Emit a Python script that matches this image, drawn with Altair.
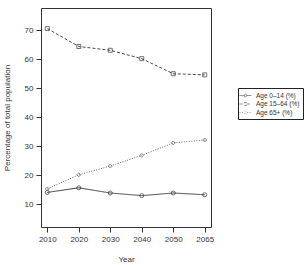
import altair as alt
import pandas as pd

years = ["2010", "2020", "2030", "2040", "2050", "2065"]
age_0_14 = [14.0, 15.6, 13.8, 12.9, 13.8, 13.2]
age_15_64 = [70.6, 64.4, 63.1, 60.2, 55.0, 54.6]
age_65p = [15.2, 20.1, 23.1, 26.8, 31.1, 32.1]
series = ["Age 0\u201314 (%)", "Age 15\u201364 (%)", "Age 65+ (%)"]
marker_shapes = ["circle", "square", "diamond"]

rows = []
for s, vals in zip(series, [age_0_14, age_15_64, age_65p]):
    for y, v in zip(years, vals):
        rows.append({"Year": y, "value": v, "series": s})
df = pd.DataFrame(rows)

font = "Liberation Sans"
tc = "#333333"
x = alt.X("Year:O", sort=years, scale=alt.Scale(type="point", padding=0.2),
          axis=alt.Axis(title="Year", labelAngle=0, domain=False, tickSize=5,
                        labelPadding=3, titlePadding=12))
y = alt.Y("value:Q", scale=alt.Scale(domain=[2.06, 77.7], nice=False, zero=False),
          axis=alt.Axis(title="Percentage of total population", values=[10, 20, 30, 40, 50, 60, 70],
                        domain=False, tickSize=5, labelPadding=3, titlePadding=13, grid=False))

cscale = alt.Scale(domain=series, range=["#2a2a2a", "#333333", "#555555"])
dscale = alt.Scale(domain=series, range=[[1, 0], [3, 2], [1, 1.5]])

legend_paths = [
    "M-1.6,0H-0.36M0.36,0H1.6M0.36,0A0.36,0.36 0 1,1 -0.36,0A0.36,0.36 0 1,1 0.36,0",
    "M-1.6,0H-0.36M0.36,0H1.6M-0.36,-0.36H0.36V0.36H-0.36Z",
    "M-1.6,0H-0.45M0.45,0H1.6M0,-0.45L0.45,0L0,0.45L-0.45,0Z",
]

leg = alt.Legend(title=None, orient="none", legendX=197, legendY=80,
                 strokeColor="#222", padding=3, labelFontSize=6.5,
                 labelFont=font, labelColor=tc, rowPadding=0.5,
                 symbolSize=56, symbolStrokeWidth=0.8, symbolFillColor="transparent",
                 labelOffset=6, cornerRadius=0)

lines = alt.Chart(df).mark_line(strokeWidth=0.9).encode(
    x=x, y=y,
    color=alt.Color("series:N", scale=cscale, legend=leg),
    strokeDash=alt.StrokeDash("series:N", scale=dscale, legend=leg))

legend_layer = alt.Chart(df).transform_filter("false").mark_point(
    filled=False, strokeWidth=0.8, size=56).encode(
    x=x, y=y,
    color=alt.Color("series:N", scale=cscale, legend=leg),
    strokeDash=alt.StrokeDash("series:N", scale=dscale, legend=leg),
    shape=alt.Shape("series:N", scale=alt.Scale(domain=series, range=legend_paths), legend=leg))

point_layers = []
for s, shp in zip(series, marker_shapes):
    point_layers.append(
        alt.Chart(df).transform_filter(alt.datum.series == s).mark_point(
            filled=False, size=16, strokeWidth=1.0, shape=shp).encode(
            x=x, y=y, color=alt.Color("series:N", scale=cscale, legend=leg))
    )

chart = alt.layer(lines, legend_layer, *point_layers).properties(
    width=170, height=219, background="white",
    autosize=alt.AutoSizeParams(type="none"),
    padding={"left": 41, "top": 8, "right": 93, "bottom": 38},
).configure_view(stroke="#333", strokeWidth=1).configure_axis(
    labelFont=font, titleFont=font, labelFontSize=8, titleFontSize=8,
    titleFontWeight="normal", labelColor=tc, titleColor=tc, tickColor=tc,
)

chart.save("out.html", embed_options={"renderer": "svg", "actions": False})
